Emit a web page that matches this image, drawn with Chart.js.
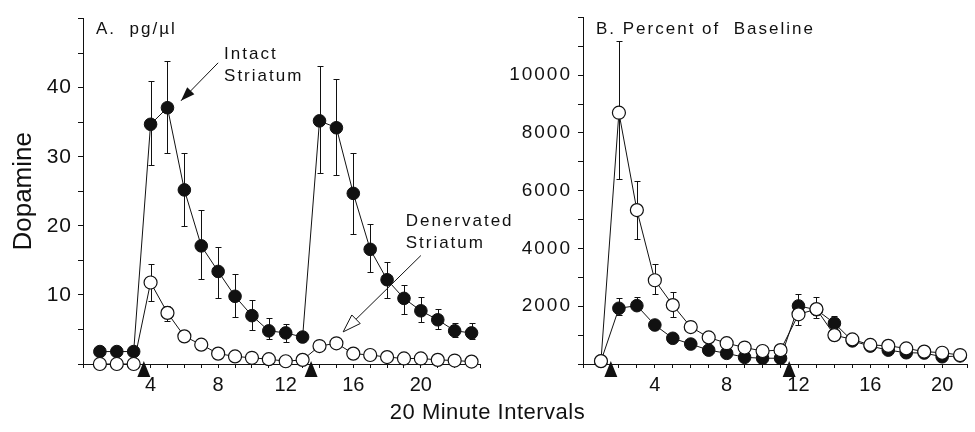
<!DOCTYPE html>
<html>
<head>
<meta charset="utf-8">
<script src="https://cdn.jsdelivr.net/npm/chart.js@4.4.1/dist/chart.umd.min.js"></script>
<style>
  html, body { margin: 0; padding: 0; background: #fff; }
  #wrap { position: relative; width: 975px; height: 432px; overflow: hidden; }
  #chartA { position: absolute; left: 0; top: 0; }
  #chartB { position: absolute; left: 490px; top: 0; }
  #xtitle { position: absolute; left: 0; width: 975px; top: 400px; text-align: center;
            font: 22px 'Liberation Sans', Arial, sans-serif; color: #111; line-height: 24px; letter-spacing: 0.5px; }
</style>
</head>
<body>
<div id="wrap">
  <canvas id="chartA" width="545" height="432"></canvas>
  <canvas id="chartB" width="485" height="432"></canvas>
  <div id="xtitle">20 Minute Intervals</div>
</div>
<script>
const FONT = "'Liberation Sans', Arial, sans-serif";
const INK = '#111';

// panel A: pg/ul
const intervalsA = [1, 2, 3, 4, 5, 6, 7, 8, 9, 10, 11, 12, 13, 14, 15, 16, 17, 18, 19, 20, 21, 22, 23];
const intactA    = [1.8, 1.8, 1.8, 34.7, 37.1, 25.2, 17.1, 13.4, 9.8, 7.0, 4.8, 4.5, 3.9, 35.2, 34.2, 24.7, 16.6, 12.2, 9.5, 7.7, 6.4, 4.8, 4.5];
const intactAHi  = [null, null, null, 41.0, 43.9, 30.5, 22.3, 17.0, 13.1, 9.3, 6.6, 5.8, null, 43.2, 41.3, 30.5, 20.2, 14.8, 11.5, 9.7, 7.9, 5.9, 5.9];
const intactALo  = [null, null, null, 28.8, 30.5, 20.0, 12.3, 9.6, 6.8, 4.9, 3.6, 3.2, null, 27.6, 27.4, 18.8, 13.3, 9.5, 7.3, 6.1, 5.0, 3.9, 3.6];
const denervA    = [0, 0, 0, 11.8, 7.4, 4.0, 2.8, 1.5, 1.1, 0.9, 0.7, 0.4, 0.6, 2.6, 3.0, 1.5, 1.3, 1.0, 0.8, 0.8, 0.6, 0.5, 0.35];
const denervAHi  = [null, null, null, 14.5, 8.4, null, null, null, null, null, null, null, null, null, null, null, null, null, null, null, null, null, null];
const denervALo  = [null, null, null, 9.1, 6.2, null, null, null, null, null, null, null, null, null, null, null, null, null, null, null, null, null, null];
const injectA    = [3.6, 13.5];

// panel B: percent of baseline
const intervalsB = [1, 2, 3, 4, 5, 6, 7, 8, 9, 10, 11, 12, 13, 14, 15, 16, 17, 18, 19, 20, 21];
const intactB    = [100, 1930, 2020, 1350, 890, 690, 480, 370, 230, 200, 200, 2010, 1880, 1410, 800, 620, 480, 390, 380, 250, 280];
const intactBHi  = [null, 2290, 2330, null, null, null, null, null, null, null, null, 2410, null, 1670, null, null, null, null, null, null, null];
const intactBLo  = [null, 1700, null, null, null, null, null, null, null, null, null, null, null, null, null, null, null, null, null, null, null];
const denervB    = [100, 8700, 5330, 2900, 2040, 1280, 920, 720, 570, 450, 480, 1720, 1900, 1000, 850, 660, 630, 540, 430, 390, 310];
const denervBHi  = [null, 11190, 6340, 3450, 2480, 1500, null, null, null, null, null, null, 2330, null, null, null, null, null, null, null, null];
const denervBLo  = [null, 6400, 4330, 2410, 1640, null, null, null, null, null, null, 1350, 1580, null, null, null, null, null, null, null, null];
const injectB    = [1.55, 11.48];

const toPoints = (xs, ys) => xs.map((x, i) => ({ x, y: ys[i] }));

const errorBars = {
  id: 'errorBars',
  beforeDatasetsDraw(chart) {
    const { ctx, scales: { x, y } } = chart;
    ctx.save();
    ctx.strokeStyle = INK;
    ctx.lineWidth = 1;
    chart.data.datasets.forEach(ds => {
      if (!ds.errHi) return;
      ds.data.forEach((pt, i) => {
        const hi = ds.errHi[i], lo = ds.errLo[i];
        if (hi == null && lo == null) return;
        const px = Math.round(x.getPixelForValue(pt.x)) + 0.5;
        const top = Math.round(y.getPixelForValue(hi ?? pt.y)) + 0.5;
        const bot = Math.round(y.getPixelForValue(lo ?? pt.y)) + 0.5;
        ctx.beginPath();
        ctx.moveTo(px, top); ctx.lineTo(px, bot);
        if (hi != null) { ctx.moveTo(px - 3, top); ctx.lineTo(px + 3, top); }
        if (lo != null) { ctx.moveTo(px - 3, bot); ctx.lineTo(px + 3, bot); }
        ctx.stroke();
      });
    });
    ctx.restore();
  }
};

// injection markers under the x axis + panel label + notes
const extras = {
  id: 'extras',
  afterLayout(chart, args, opts) {
    const s = chart.scales.y;
    if (s._spaced) return;
    const orig = s.drawLabels.bind(s);
    s.drawLabels = area => {
      chart.ctx.save();
      chart.ctx.letterSpacing = opts.yLetterSpacing + 'px';
      orig(area);
      chart.ctx.restore();
    };
    s._spaced = true;
  },
  afterDraw(chart, args, opts) {
    const { ctx, chartArea, scales: { x, y } } = chart;
    ctx.save();
    ctx.fillStyle = INK;
    ctx.strokeStyle = INK;
    (opts.inject || []).forEach(v => {
      const px = x.getPixelForValue(v);
      ctx.beginPath();
      ctx.moveTo(px, chartArea.bottom - 3);
      ctx.lineTo(px + 6.5, chartArea.bottom + 13);
      ctx.lineTo(px - 6.5, chartArea.bottom + 13);
      ctx.closePath();
      ctx.fill();
    });

    ctx.letterSpacing = '2px';
    ctx.font = '17px ' + FONT;
    ctx.textBaseline = 'alphabetic';
    ctx.textAlign = 'left';
    ctx.fillText(opts.label, chartArea.left + 13, 34);

    (opts.notes || []).forEach(n => {
      n.lines.forEach((t, i) => ctx.fillText(t, x.getPixelForValue(n.x), y.getPixelForValue(n.y[i])));
    });

    (opts.arrows || []).forEach(a => {
      const x0 = x.getPixelForValue(a.from[0]), y0 = y.getPixelForValue(a.from[1]);
      const x1 = x.getPixelForValue(a.to[0]), y1 = y.getPixelForValue(a.to[1]);
      const ang = Math.atan2(y1 - y0, x1 - x0);
      const bx = x1 - a.len * Math.cos(ang), by = y1 - a.len * Math.sin(ang);
      const nx = -Math.sin(ang) * a.half, ny = Math.cos(ang) * a.half;
      ctx.lineWidth = 1;
      ctx.beginPath();
      ctx.moveTo(x0, y0);
      ctx.lineTo(a.open ? bx : x1, a.open ? by : y1);
      ctx.stroke();
      ctx.beginPath();
      ctx.moveTo(x1, y1);
      ctx.lineTo(bx + nx, by + ny);
      ctx.lineTo(bx - nx, by - ny);
      ctx.closePath();
      if (a.open) { ctx.fillStyle = '#fff'; ctx.fill(); ctx.stroke(); ctx.fillStyle = INK; }
      else ctx.fill();
    });
    ctx.restore();
  }
};

function series(label, xs, ys, hi, lo, open) {
  return {
    label,
    data: toPoints(xs, ys),
    errHi: hi,
    errLo: lo,
    borderColor: INK,
    borderWidth: 1,
    pointRadius: open ? 6.5 : 6.3,
    pointBorderWidth: open ? 1.2 : 1,
    pointBackgroundColor: open ? '#fff' : INK,
    pointBorderColor: INK,
    tension: 0,
    clip: false
  };
}

function makePanel(canvas, cfg) {
  return new Chart(canvas, {
    type: 'line',
    data: { datasets: cfg.datasets },
    options: {
      responsive: false,
      animation: false,
      events: [],
      layout: { padding: { top: 17, right: cfg.padRight, bottom: 0, left: 0 } },
      plugins: {
        legend: { display: false },
        tooltip: { enabled: false },
        extras: cfg.extras
      },
      scales: {
        x: {
          type: 'linear',
          min: 0,
          max: cfg.xMax,
          afterFit: s => { s.height = 68; },
          border: { color: INK, width: 1 },
          grid: { drawOnChartArea: false, color: INK, tickLength: 4 },
          ticks: {
            stepSize: 1,
            padding: 5,
            color: INK,
            font: { family: FONT, size: 20 },
            maxRotation: 0,
            autoSkip: false,
            callback: v => (v > 0 && v % 4 === 0 ? String(v) : '')
          }
        },
        y: {
          min: 0,
          max: cfg.yMax,
          afterFit: s => { s.width = cfg.yWidth; },
          border: { color: INK, width: 1 },
          grid: { drawOnChartArea: false, color: INK, tickLength: 5 },
          ticks: {
            stepSize: cfg.yStep,
            padding: 6,
            color: INK,
            font: { family: FONT, size: cfg.yFont },
            callback: v => (v > 0 && v < cfg.yMax && v % cfg.yLabelStep === 0 ? String(v) : '')
          },
          title: cfg.yTitle
        }
      }
    },
    plugins: [errorBars, extras]
  });
}

makePanel(document.getElementById('chartA'), {
  datasets: [
    series('Denervated Striatum', intervalsA, denervA, denervAHi, denervALo, true),
    series('Intact Striatum', intervalsA, intactA, intactAHi, intactALo, false)
  ],
  padRight: 65,
  xMax: 23.5,
  yMax: 50,
  yStep: 5,
  yLabelStep: 10,
  yWidth: 83,
  yFont: 21,
  yTitle: { display: true, text: 'Dopamine', color: INK, font: { family: FONT, size: 26 }, padding: { top: 8, bottom: 0 } },
  extras: {
    yLetterSpacing: 1,
    inject: injectA,
    label: 'A.  pg/\u00b5l',
    notes: [
      { lines: ['Intact', 'Striatum'], x: 8.35, y: [44.2, 41.0] },
      { lines: ['Denervated', 'Striatum'], x: 19.1, y: [20.0, 16.8] }
    ],
    arrows: [
      { from: [8.0, 43.6], to: [5.8, 38.1], len: 14, half: 5, open: false },
      { from: [20.0, 15.7], to: [15.4, 4.65], len: 18, half: 6, open: true }
    ]
  }
});

makePanel(document.getElementById('chartB'), {
  datasets: [
    series('Denervated Striatum', intervalsB, denervB, denervBHi, denervBLo, true),
    series('Intact Striatum', intervalsB, intactB, intactBHi, intactBLo, false)
  ],
  padRight: 0,
  xMax: 21.4,
  yMax: 12000,
  yStep: 1000,
  yLabelStep: 2000,
  yWidth: 93,
  yFont: 19,
  yTitle: { display: false },
  extras: {
    yLetterSpacing: 2,
    inject: injectB,
    label: 'B. Percent of  Baseline',
    notes: [],
    arrows: []
  }
});
</script>
</body>
</html>
